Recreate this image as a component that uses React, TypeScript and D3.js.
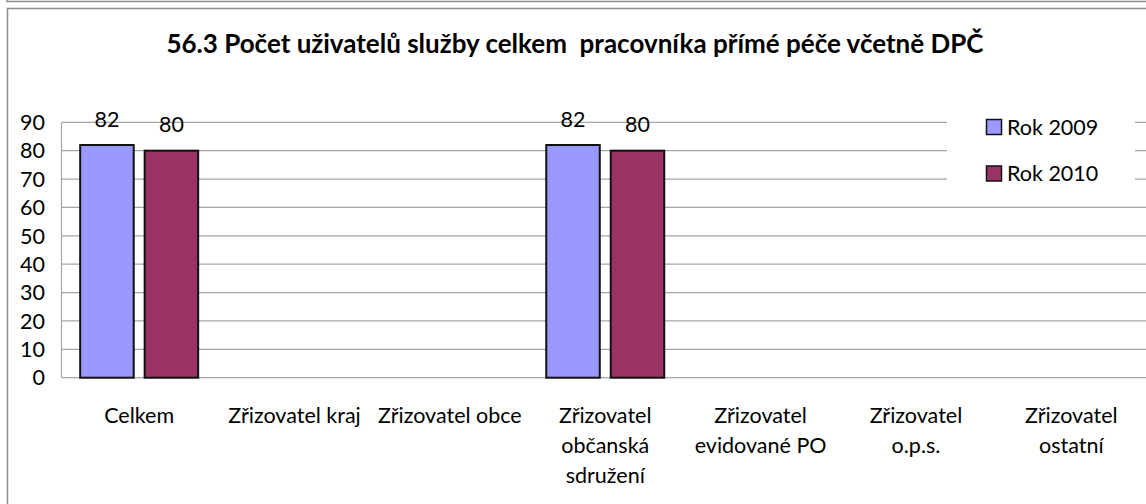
import { select, scaleLinear, scaleBand } from "d3";
import { useEffect, useRef } from "react";

const title = "56.3 Počet uživatelů služby celkem  pracovníka přímé péče včetně DPČ";
const categories = [
  "Celkem",
  "Zřizovatel kraj",
  "Zřizovatel obce",
  "Zřizovatel občanská sdružení",
  "Zřizovatel evidované PO",
  "Zřizovatel o.p.s.",
  "Zřizovatel ostatní",
];
// how Excel wrapped the category labels
const categoryLines = [
  ["Celkem"],
  ["Zřizovatel kraj"],
  ["Zřizovatel obce"],
  ["Zřizovatel", "občanská", "sdružení"],
  ["Zřizovatel", "evidované PO"],
  ["Zřizovatel", "o.p.s."],
  ["Zřizovatel", "ostatní"],
];
const seriesNames = ["Rok 2009", "Rok 2010"];
const rok2009 = [82, null, null, 82, null, null, null];
const rok2010 = [80, null, null, 80, null, null, null];
const yTicks = [0, 10, 20, 30, 40, 50, 60, 70, 80, 90];

const colors = ["#9999FF", "#993366"];
const font = "Lato, 'Open Sans', sans-serif";
const fs = 21.5;

function App() {
  const svgRef = useRef<SVGSVGElement>(null);

  useEffect(() => {
    const svg = select(svgRef.current);
    svg.selectAll("*").remove();

    const left = 61.5;
    const right = 1149;
    const yScale = scaleLinear().domain([0, 90]).range([377.7, 122.3]);
    const xScale = scaleBand().domain(categories).range([left, right]);
    const step = xScale.step();
    const groupW = 118;
    const xInner = scaleBand()
      .domain(seriesNames)
      .range([(step - groupW) / 2, (step + groupW) / 2])
      .paddingInner(0.17);

    // frames
    svg
      .append("path")
      .attr("d", "M7,0V1.5H1146M1146,8.5H7.5V504")
      .attr("fill", "none")
      .attr("stroke", "#8c8c8c")
      .attr("stroke-width", 1.5);

    svg
      .append("text")
      .attr("x", 575)
      .attr("y", 53)
      .attr("text-anchor", "middle")
      .attr("font-family", font)
      .attr("font-weight", "bold")
      .attr("font-size", 26)
      .style("white-space", "pre")
      .text(title);

    // gridlines
    svg
      .selectAll(".grid")
      .data(yTicks)
      .join("line")
      .attr("class", "grid")
      .attr("x1", left)
      .attr("x2", 1146)
      .attr("y1", (d) => yScale(d))
      .attr("y2", (d) => yScale(d))
      .attr("stroke", "#a6a6a6")
      .attr("stroke-width", 1.2);

    svg
      .append("line")
      .attr("x1", left)
      .attr("x2", left)
      .attr("y1", yScale(90))
      .attr("y2", yScale(0))
      .attr("stroke", "#a6a6a6")
      .attr("stroke-width", 1.2);

    svg
      .selectAll(".ylab")
      .data(yTicks)
      .join("text")
      .attr("class", "ylab")
      .attr("x", 45)
      .attr("y", (d) => yScale(d))
      .attr("dy", "0.36em")
      .attr("text-anchor", "end")
      .attr("font-family", font)
      .attr("font-size", fs)
      .text((d) => d);

    // legend box hides the gridlines behind it
    svg
      .append("rect")
      .attr("x", 947)
      .attr("y", 108)
      .attr("width", 188)
      .attr("height", 84)
      .attr("fill", "white");

    const allSeries = [rok2009, rok2010];
    allSeries.forEach((values, si) => {
      const pts = values
        .map((v, i) => ({ v, c: categories[i] }))
        .filter((d) => d.v !== null);
      const g = svg.append("g");
      g.selectAll("rect")
        .data(pts)
        .join("rect")
        .attr("x", (d) => xScale(d.c) + xInner(seriesNames[si]))
        .attr("y", (d) => yScale(d.v))
        .attr("width", xInner.bandwidth())
        .attr("height", (d) => yScale(0) - yScale(d.v))
        .attr("fill", colors[si])
        .attr("stroke", "#111")
        .attr("stroke-width", 2);
      g.selectAll("text")
        .data(pts)
        .join("text")
        .attr("x", (d) => xScale(d.c) + xInner(seriesNames[si]) + xInner.bandwidth() / 2)
        .attr("y", (d) => yScale(d.v) - 18.5)
        .attr("text-anchor", "middle")
        .attr("font-family", font)
        .attr("font-size", fs)
        .text((d) => d.v);
    });

    // category labels
    categories.forEach((c, i) => {
      const t = svg
        .append("text")
        .attr("x", xScale(c) + step / 2)
        .attr("text-anchor", "middle")
        .attr("font-family", font)
        .attr("font-size", fs);
      categoryLines[i].forEach((line, li) => {
        t.append("tspan")
          .attr("x", xScale(c) + step / 2)
          .attr("y", 423 + li * 30)
          .text(line);
      });
    });

    // legend
    seriesNames.forEach((name, i) => {
      svg
        .append("rect")
        .attr("x", 986.5)
        .attr("y", 119.5 + i * 46.5)
        .attr("width", 15)
        .attr("height", 15)
        .attr("fill", colors[i])
        .attr("stroke", "#111")
        .attr("stroke-width", 1.5);
      svg
        .append("text")
        .attr("x", 1007)
        .attr("y", 127 + i * 46.5)
        .attr("dy", "0.36em")
        .attr("font-family", font)
        .attr("font-size", fs)
        .text(name);
    });
  }, []);

  return (
    <svg
      ref={svgRef}
      width={1146}
      height={504}
      style={{ position: "absolute", left: 0, top: 0, background: "white" }}
    />
  );
}

export default App;
